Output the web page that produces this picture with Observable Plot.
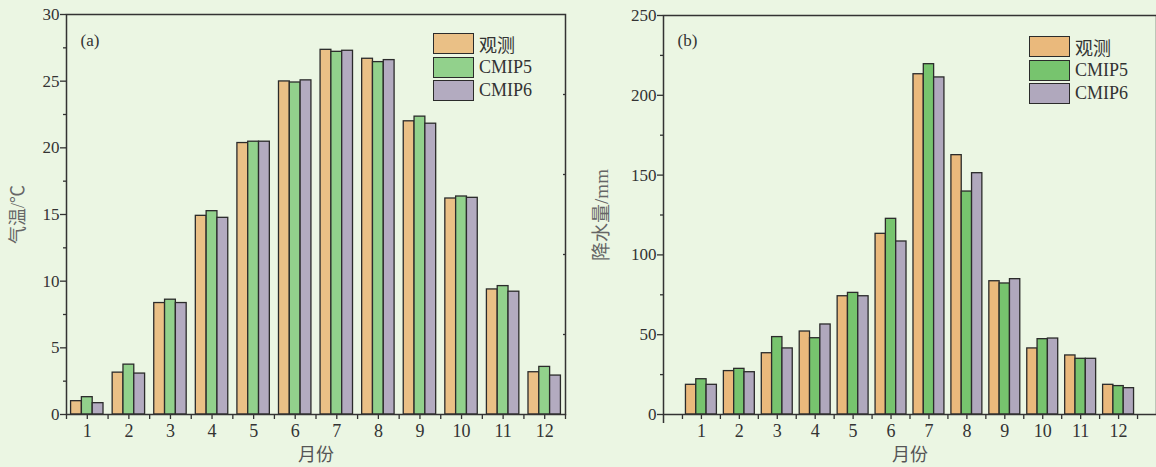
<!DOCTYPE html>
<html>
<head>
<meta charset="utf-8">
<script src="https://cdn.jsdelivr.net/npm/d3@7"></script>
<script src="https://cdn.jsdelivr.net/npm/@observablehq/plot@0.6"></script>
<style>
  html, body { margin: 0; padding: 0; background: #ebf6e3; }
  #wrap { display: flex; width: 1156px; height: 467px; overflow: hidden; }
  .panel { position: relative; }
  .legend { position: absolute; font-family: "Liberation Serif", "Noto Sans CJK SC", serif; font-size: 18px; color: #333; }
  .legend .row { display: flex; align-items: center; height: 23.5px; }
  .legend .sw { width: 39px; height: 19px; border: 1.5px solid #2b2b2b; margin-right: 5px; box-sizing: content-box; }
</style>
</head>
<body>
<div id="wrap"></div>
<script>
const months = [1, 2, 3, 4, 5, 6, 7, 8, 9, 10, 11, 12];
const series = ["观测", "CMIP5", "CMIP6"];

const tempObs   = [1.0, 3.14, 8.36, 14.9, 20.36, 24.98, 27.35, 26.68, 21.99, 16.2, 9.38, 3.17];
const tempCMIP5 = [1.3, 3.74, 8.61, 15.25, 20.46, 24.9, 27.2, 26.43, 22.34, 16.35, 9.63, 3.57];
const tempCMIP6 = [0.85, 3.07, 8.36, 14.75, 20.46, 25.06, 27.28, 26.58, 21.81, 16.25, 9.21, 2.92];

const precObs   = [18.6, 27.2, 38.4, 52.0, 74.1, 113.2, 213.2, 162.5, 83.5, 41.4, 37.0, 18.6];
const precCMIP5 = [22.1, 28.6, 48.5, 47.8, 76.2, 122.6, 219.5, 139.7, 82.1, 47.2, 34.9, 17.8];
const precCMIP6 = [18.6, 26.5, 41.4, 56.4, 74.1, 108.4, 211.2, 151.2, 84.8, 47.6, 34.9, 16.5];

const tempTicks = [0, 5, 10, 15, 20, 25, 30];
const precTicks = [0, 50, 100, 150, 200, 250];

function buildTable(arrays, barW) {
  const rows = [];
  months.forEach((m, j) => {
    arrays.forEach((arr, i) => {
      const x1 = m - 1.5 * barW + i * barW;
      rows.push({month: m, series: series[i], value: arr[j], x1, x2: x1 + barW});
    });
  });
  return rows;
}

function panel(opts) {
  const {data, width, marginLeft, marginRight, marginTop, xDomain, yDomain, yTicks, yMinor, colors,
         ytitle, ytitleDx, ytitleSize, tag, tagDx, tagDy, halfTicks, extraTicks, rightTicks} = opts;
  const marks = [
    Plot.rectY(data, {x1: "x1", x2: "x2", y: "value", fill: "series", stroke: "#2b2b2b", strokeWidth: 1.3}),
    Plot.frame({stroke: "#333", strokeWidth: 1.5}),
    Plot.axisY({ticks: yTicks, tickSize: 6, tickPadding: 1, label: null, strokeWidth: 1.3, fontSize: 17}),
    Plot.axisY({ticks: yMinor, tickSize: 3, text: null, label: null, strokeWidth: 1.3}),
    Plot.axisX({ticks: months, tickSize: 5, tickPadding: 5, label: null, strokeWidth: 1.3, fontSize: 18}),
    Plot.axisX({ticks: halfTicks, tickSize: 5, text: null, label: null, strokeWidth: 1.3}),
    Plot.text(["月份"], {frameAnchor: "bottom", lineAnchor: "middle", dy: 41, fontSize: 18, fill: "#555",
      fontFamily: "Noto Sans CJK SC"}),
    Plot.text([ytitle], {frameAnchor: "left", textAnchor: "middle", lineAnchor: "middle", dx: ytitleDx, rotate: -90,
      fontSize: ytitleSize, fill: "#666", fontFamily: "Liberation Serif, Noto Sans CJK SC"}),
    Plot.text([tag], {frameAnchor: "top-left", lineAnchor: "middle", dx: tagDx, dy: tagDy, textAnchor: "start", fontSize: 17, fill: "#333"})
  ];
  if (extraTicks) marks.push(Plot.axisX({ticks: extraTicks, tickSize: 9, text: null, label: null, strokeWidth: 1.5}));
  if (rightTicks) marks.push(Plot.axisY({anchor: "right", ticks: rightTicks, tickSize: -3, text: null, label: null, strokeWidth: 1.3}));
  return Plot.plot({
    width, height: 467,
    marginLeft, marginRight, marginTop, marginBottom: 53,
    style: {background: "transparent", fontFamily: "Liberation Serif, Noto Sans CJK SC, serif", fontSize: "16px", color: "#333"},
    x: {type: "linear", domain: xDomain, axis: null},
    y: {domain: yDomain, axis: null},
    color: {domain: series, range: colors},
    marks
  });
}

function legend(colors, left, top) {
  const div = document.createElement("div");
  div.className = "legend";
  div.style.left = left + "px";
  div.style.top = top + "px";
  series.forEach((s, i) => {
    const row = document.createElement("div");
    row.className = "row";
    const sw = document.createElement("div");
    sw.className = "sw";
    sw.style.background = colors[i];
    const t = document.createElement("span");
    t.textContent = s;
    row.appendChild(sw); row.appendChild(t);
    div.appendChild(row);
  });
  return div;
}

const wrap = document.getElementById("wrap");

const colorsA = ["#eac086", "#92d18c", "#b3abc0"];
const colorsB = ["#eab97c", "#77c46e", "#b0a8bd"];

const pA = document.createElement("div"); pA.className = "panel"; pA.style.width = "580px";
pA.appendChild(panel({
  data: buildTable([tempObs, tempCMIP5, tempCMIP6], 0.26),
  width: 580, marginLeft: 66, marginRight: 15, marginTop: 14,
  xDomain: [0.5, 12.5], yDomain: [0, 30], yTicks: tempTicks,
  yMinor: [2.5, 7.5, 12.5, 17.5, 22.5, 27.5], colors: colorsA,
  ytitle: "气温/℃", ytitleDx: -48, ytitleSize: 18, tag: "(a)", tagDx: 14, tagDy: 26,
  halfTicks: d3.range(0.5, 13, 1), rightTicks: [6, 12, 18, 24]
}));
pA.appendChild(legend(colorsA, 433, 32));
wrap.appendChild(pA);

const pB = document.createElement("div"); pB.className = "panel"; pB.style.width = "576px";
pB.appendChild(panel({
  data: buildTable([precObs, precCMIP5, precCMIP6], 0.272),
  width: 576, marginLeft: 83, marginRight: 0, marginTop: 15,
  xDomain: [0, 13], yDomain: [0, 250], yTicks: precTicks,
  yMinor: [25, 75, 125, 175, 225], colors: colorsB,
  ytitle: "降水量/mm", ytitleDx: -62, ytitleSize: 19, tag: "(b)", tagDx: 14, tagDy: 25,
  halfTicks: d3.range(0.5, 13, 1), extraTicks: [0]
}));
pB.appendChild(legend(colorsB, 449, 35));
wrap.appendChild(pB);
</script>
</body>
</html>
